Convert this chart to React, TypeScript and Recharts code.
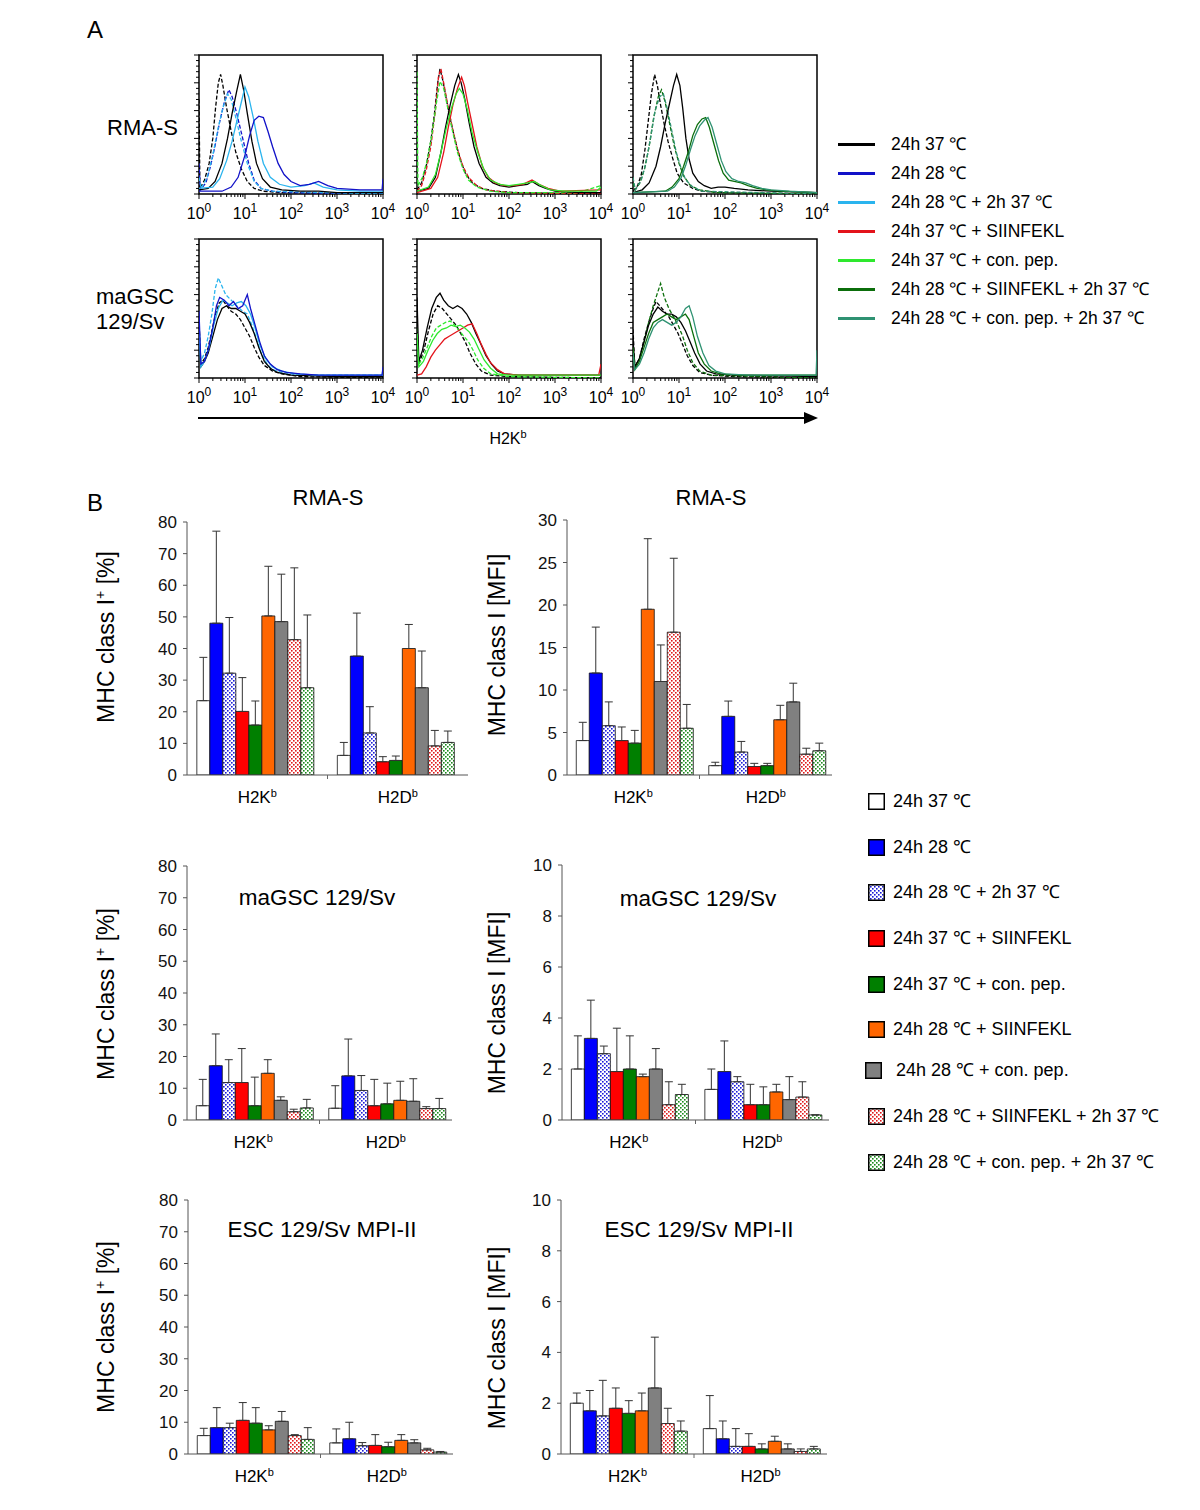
import React from 'react';
import { LineChart, Line, XAxis, YAxis, ReferenceArea, BarChart, Bar, ErrorBar } from 'recharts';

const FONT = '"Liberation Sans", Arial, Helvetica, sans-serif';

// ---------- Panel A: flow histograms, points are [log10 intensity, % of max events]
const tlBlackIso = [[0, 68], [0.02, 4], [0.12, 10], [0.22, 22], [0.3, 40], [0.36, 62], [0.42, 80], [0.47, 86], [0.52, 78], [0.6, 62], [0.7, 45], [0.8, 30], [0.92, 18], [1.05, 9], [1.2, 4], [1.4, 2], [1.8, 1], [4, 0]];
const tlBlueIso = [[0, 22], [0.03, 3], [0.15, 8], [0.25, 20], [0.35, 35], [0.45, 52], [0.55, 66], [0.65, 75], [0.72, 70], [0.82, 58], [0.95, 40], [1.08, 22], [1.2, 10], [1.35, 4], [1.6, 2], [2, 1], [4, 0]];
const tlCyanIso = [[0, 12], [0.05, 4], [0.18, 12], [0.3, 28], [0.42, 48], [0.52, 62], [0.62, 72], [0.7, 68], [0.8, 55], [0.92, 38], [1.05, 22], [1.2, 9], [1.35, 4], [1.6, 2], [4, 0]];
const tlBlack = [[0, 3], [0.2, 4], [0.35, 9], [0.5, 22], [0.62, 40], [0.72, 58], [0.82, 74], [0.9, 86], [0.97, 75], [1.05, 58], [1.15, 38], [1.25, 22], [1.38, 11], [1.55, 5], [1.8, 3], [2.2, 2], [2.6, 2], [3, 1], [4, 1]];
const tlCyan = [[0, 4], [0.3, 5], [0.45, 11], [0.6, 24], [0.72, 38], [0.82, 52], [0.92, 66], [1.0, 77], [1.08, 70], [1.18, 55], [1.28, 38], [1.4, 22], [1.55, 12], [1.75, 7], [2.0, 5], [2.3, 6], [2.5, 8], [2.7, 5], [3.0, 3], [3.5, 2], [4, 2]];
const tlBlue = [[0, 2], [0.5, 2], [0.7, 5], [0.85, 12], [1.0, 28], [1.1, 42], [1.2, 53], [1.3, 56], [1.4, 55], [1.5, 45], [1.6, 34], [1.72, 22], [1.85, 14], [2.0, 9], [2.2, 6], [2.4, 7], [2.6, 9], [2.8, 6], [3.0, 4], [3.5, 3], [3.98, 3], [4, 11]];

const tmBlackIso = [[0, 3], [0.1, 8], [0.2, 20], [0.3, 38], [0.38, 58], [0.45, 80], [0.5, 90], [0.56, 82], [0.65, 66], [0.75, 50], [0.85, 36], [0.95, 24], [1.05, 15], [1.2, 8], [1.4, 4], [1.7, 2], [2.2, 1], [4, 0]];
const tmRedIso = [[0, 2], [0.1, 6], [0.2, 17], [0.3, 34], [0.4, 60], [0.47, 85], [0.52, 90], [0.58, 80], [0.68, 62], [0.78, 46], [0.88, 32], [1.0, 20], [1.12, 12], [1.3, 6], [1.5, 3], [2, 1], [4, 0]];
const tmGreenIso = [[0, 88], [0.02, 6], [0.12, 12], [0.22, 24], [0.32, 42], [0.42, 65], [0.5, 81], [0.58, 76], [0.68, 60], [0.78, 44], [0.88, 30], [1.0, 18], [1.12, 10], [1.3, 5], [1.6, 2], [2, 1], [3.5, 1], [4, 6]];
const tmBlack = [[0, 2], [0.25, 4], [0.4, 12], [0.52, 30], [0.62, 48], [0.72, 64], [0.82, 78], [0.9, 86], [0.96, 80], [1.04, 68], [1.14, 50], [1.24, 34], [1.35, 22], [1.5, 12], [1.65, 8], [1.8, 6], [2.0, 5], [2.2, 6], [2.4, 7], [2.5, 9], [2.65, 6], [2.8, 4], [3.0, 2], [3.5, 1], [4, 1]];
const tmRed = [[0, 1], [0.3, 4], [0.45, 12], [0.58, 30], [0.68, 48], [0.78, 64], [0.88, 76], [0.97, 84], [1.03, 78], [1.1, 66], [1.2, 50], [1.3, 34], [1.42, 20], [1.55, 12], [1.7, 8], [1.9, 6], [2.1, 6], [2.3, 7], [2.5, 10], [2.65, 7], [2.85, 4], [3.1, 2], [4, 3]];
const tmGreen = [[0, 2], [0.25, 5], [0.4, 14], [0.52, 30], [0.64, 48], [0.75, 62], [0.85, 72], [0.92, 76], [1.0, 72], [1.1, 60], [1.2, 44], [1.32, 30], [1.45, 18], [1.6, 10], [1.8, 7], [2.0, 6], [2.2, 7], [2.4, 8], [2.55, 9], [2.7, 6], [2.9, 3], [3.2, 2], [3.9, 2], [4, 5]];

const trBlackIso = [[0, 2], [0.1, 6], [0.18, 14], [0.26, 32], [0.33, 52], [0.4, 72], [0.47, 86], [0.53, 78], [0.6, 64], [0.68, 50], [0.76, 38], [0.86, 26], [0.96, 15], [1.1, 8], [1.3, 4], [1.5, 2], [2, 1], [4, 0]];
const trDkGreenIso = [[0, 8], [0.05, 3], [0.15, 8], [0.25, 18], [0.35, 34], [0.45, 55], [0.55, 70], [0.62, 75], [0.7, 66], [0.8, 50], [0.9, 34], [1.0, 22], [1.1, 13], [1.25, 6], [1.45, 3], [1.8, 1], [4, 0]];
const trTealIso = [[0, 12], [0.05, 3], [0.18, 10], [0.28, 22], [0.38, 40], [0.48, 60], [0.58, 70], [0.66, 72], [0.74, 62], [0.84, 46], [0.94, 30], [1.05, 18], [1.15, 10], [1.3, 5], [1.5, 2], [4, 0]];
const trBlack = [[0, 1], [0.2, 3], [0.35, 8], [0.5, 20], [0.6, 34], [0.7, 51], [0.8, 66], [0.88, 78], [0.95, 86], [1.02, 78], [1.08, 62], [1.15, 40], [1.22, 25], [1.3, 15], [1.42, 9], [1.55, 6], [1.7, 4], [1.85, 5], [2.0, 5], [2.2, 4], [2.5, 3], [3.0, 2], [4, 1]];
const trDkGreen = [[0, 1], [0.7, 2], [0.85, 5], [1.0, 11], [1.1, 20], [1.2, 30], [1.3, 42], [1.4, 50], [1.5, 54], [1.58, 55], [1.66, 48], [1.76, 36], [1.86, 24], [1.96, 15], [2.08, 10], [2.2, 9], [2.35, 8], [2.5, 6], [2.7, 4], [2.9, 3], [3.2, 2], [4, 1]];
const trTeal = [[0, 1], [0.75, 2], [0.9, 5], [1.05, 12], [1.15, 21], [1.25, 32], [1.35, 42], [1.45, 49], [1.55, 53], [1.63, 55], [1.72, 48], [1.82, 36], [1.92, 24], [2.02, 16], [2.15, 11], [2.3, 9], [2.45, 8], [2.6, 6], [2.8, 4], [3.0, 3], [3.4, 2], [4, 1]];

const blBlackIso = [[0, 42], [0.04, 10], [0.12, 14], [0.2, 22], [0.28, 34], [0.36, 46], [0.44, 54], [0.52, 56], [0.6, 52], [0.7, 48], [0.8, 46], [0.9, 42], [1.0, 36], [1.1, 30], [1.2, 22], [1.3, 15], [1.42, 9], [1.6, 5], [1.8, 3], [2.2, 1], [4, 0]];
const blBlack = [[0, 30], [0.04, 8], [0.12, 12], [0.2, 18], [0.3, 30], [0.4, 42], [0.5, 50], [0.6, 52], [0.7, 50], [0.8, 50], [0.9, 48], [1.0, 46], [1.1, 40], [1.2, 32], [1.3, 22], [1.42, 12], [1.55, 7], [1.7, 4], [2, 2], [3, 1], [4, 1]];
const blBlue = [[0, 48], [0.04, 10], [0.12, 12], [0.2, 20], [0.3, 36], [0.38, 52], [0.45, 58], [0.55, 56], [0.65, 52], [0.75, 55], [0.85, 50], [0.95, 52], [1.05, 60], [1.12, 50], [1.22, 38], [1.32, 26], [1.42, 16], [1.55, 10], [1.7, 6], [1.9, 4], [2.2, 3], [2.6, 2], [3.5, 2], [3.98, 2], [4, 8]];
const blCyanIso = [[0, 40], [0.04, 12], [0.12, 18], [0.2, 30], [0.28, 46], [0.35, 64], [0.42, 72], [0.5, 66], [0.58, 60], [0.7, 56], [0.82, 52], [0.95, 48], [1.05, 46], [1.15, 38], [1.25, 28], [1.35, 18], [1.48, 10], [1.6, 6], [1.8, 4], [2.2, 2], [3, 2], [4, 2]];
const blCyan = [[0, 35], [0.04, 8], [0.12, 12], [0.22, 22], [0.32, 38], [0.42, 50], [0.52, 56], [0.62, 54], [0.72, 52], [0.82, 54], [0.92, 55], [1.02, 52], [1.12, 46], [1.22, 36], [1.32, 24], [1.45, 14], [1.6, 8], [1.8, 5], [2.1, 3], [2.6, 2], [3.5, 2], [3.98, 2], [4, 6]];

const bmBlackIso = [[0, 40], [0.04, 10], [0.15, 20], [0.25, 34], [0.35, 46], [0.45, 52], [0.55, 50], [0.65, 46], [0.75, 42], [0.85, 38], [0.95, 32], [1.05, 26], [1.15, 18], [1.28, 10], [1.4, 5], [1.6, 2], [2, 1], [4, 0]];
const bmBlack = [[0, 58], [0.04, 12], [0.12, 20], [0.22, 36], [0.32, 50], [0.42, 58], [0.5, 61], [0.58, 56], [0.68, 52], [0.78, 50], [0.88, 52], [0.98, 50], [1.08, 46], [1.18, 40], [1.28, 32], [1.38, 25], [1.5, 16], [1.62, 10], [1.75, 5], [1.9, 3], [2.2, 2], [3, 2], [4, 2]];
const bmRed = [[0, 2], [0.1, 3], [0.2, 8], [0.3, 15], [0.4, 20], [0.5, 24], [0.6, 28], [0.7, 30], [0.8, 32], [0.9, 34], [1.0, 36], [1.1, 38], [1.2, 39], [1.3, 32], [1.4, 24], [1.5, 17], [1.6, 11], [1.75, 6], [1.9, 3], [2.2, 2], [3, 2], [3.95, 2], [4, 10]];
const bmGreenIso = [[0, 36], [0.04, 10], [0.12, 14], [0.22, 22], [0.32, 30], [0.42, 36], [0.52, 38], [0.62, 40], [0.72, 41], [0.82, 38], [0.92, 34], [1.02, 30], [1.12, 26], [1.22, 20], [1.32, 13], [1.45, 7], [1.6, 3], [2, 1], [4, 0]];
const bmGreen = [[0, 32], [0.04, 8], [0.14, 12], [0.24, 20], [0.34, 27], [0.44, 32], [0.54, 35], [0.64, 36], [0.74, 38], [0.84, 37], [0.94, 38], [1.04, 36], [1.14, 33], [1.24, 28], [1.34, 21], [1.46, 13], [1.6, 7], [1.75, 3], [2, 2], [3, 2], [4, 2]];

const brBlackIso = [[0, 35], [0.04, 8], [0.14, 14], [0.24, 28], [0.34, 40], [0.44, 50], [0.5, 55], [0.58, 52], [0.68, 48], [0.78, 44], [0.88, 38], [0.98, 32], [1.08, 24], [1.18, 16], [1.3, 9], [1.45, 4], [1.7, 2], [2.2, 1], [4, 0]];
const brBlack = [[0, 28], [0.04, 8], [0.14, 14], [0.24, 26], [0.34, 38], [0.44, 46], [0.54, 51], [0.64, 48], [0.74, 46], [0.84, 46], [0.94, 44], [1.04, 40], [1.14, 34], [1.24, 26], [1.34, 18], [1.46, 10], [1.6, 5], [1.8, 3], [2.2, 2], [4, 1]];
const brDkGreenIso = [[0, 20], [0.04, 8], [0.14, 14], [0.24, 26], [0.34, 40], [0.44, 52], [0.52, 60], [0.6, 68], [0.68, 58], [0.78, 50], [0.88, 44], [0.98, 38], [1.08, 30], [1.18, 20], [1.3, 11], [1.45, 5], [1.7, 2], [4, 0]];
const brDkGreen = [[0, 22], [0.04, 6], [0.14, 12], [0.24, 22], [0.34, 32], [0.44, 40], [0.54, 42], [0.64, 44], [0.74, 46], [0.84, 44], [0.94, 42], [1.04, 44], [1.14, 46], [1.22, 42], [1.32, 30], [1.42, 18], [1.55, 10], [1.7, 5], [1.9, 3], [2.3, 2], [3.5, 2], [4, 2]];
const brTeal = [[0, 18], [0.04, 6], [0.14, 10], [0.24, 18], [0.34, 28], [0.44, 36], [0.54, 40], [0.64, 42], [0.74, 40], [0.84, 38], [0.94, 40], [1.04, 44], [1.14, 50], [1.22, 52], [1.3, 44], [1.4, 30], [1.52, 18], [1.65, 9], [1.8, 5], [2.0, 3], [2.5, 2], [3.5, 2], [3.98, 2], [4, 20]];

const decades = [0, 1, 2, 3, 4];
const lineLegend = ['24h 37 ℃', '24h 28 ℃', '24h 28 ℃ + 2h 37 ℃', '24h 37 ℃ + SIINFEKL', '24h 37 ℃ + con. pep.', '24h 28 ℃ + SIINFEKL + 2h 37 ℃', '24h 28 ℃ + con. pep. + 2h 37 ℃'];
const lc = ['#000000', '#1212c8', '#2ab4ee', '#e3131b', '#2ee82e', '#0b6e0b', '#2f9272'];

// ---------- Panel B: bar values (mean) and top of error bar (mean + SD)
const alleles = ['H2K', 'H2D'];
const treatments = ['24h 37 ℃', '24h 28 ℃', '24h 28 ℃ + 2h 37 ℃', '24h 37 ℃ + SIINFEKL', '24h 37 ℃ + con. pep.', '24h 28 ℃ + SIINFEKL', '24h 28 ℃ + con. pep.', '24h 28 ℃ + SIINFEKL + 2h 37 ℃', '24h 28 ℃ + con. pep. + 2h 37 ℃'];

const rmaPctK = [23.5, 48, 32.2, 20.1, 15.8, 50.3, 48.5, 42.8, 27.6];
const rmaPctKErr = [37.2, 77.1, 49.8, 30.8, 23.4, 66, 63.5, 65.5, 50.6];
const rmaPctD = [6.2, 37.6, 13.3, 4.2, 4.6, 40, 27.6, 9.2, 10.3];
const rmaPctDErr = [10.3, 51.2, 21.6, 5.8, 6, 47.6, 39.2, 14.1, 13.9];

const rmaMfiK = [4.05, 12, 5.8, 4.05, 3.75, 19.5, 11, 16.8, 5.5];
const rmaMfiKErr = [6.2, 17.4, 8.6, 5.65, 5.25, 27.8, 15.3, 25.5, 8.3];
const rmaMfiD = [1.1, 6.9, 2.7, 1.0, 1.1, 6.5, 8.6, 2.45, 2.85];
const rmaMfiDErr = [1.5, 8.7, 3.95, 1.37, 1.37, 8.2, 10.8, 3.15, 3.75];

const gscPctK = [4.5, 17.1, 11.8, 11.8, 4.5, 14.7, 6.2, 2.6, 3.8];
const gscPctKErr = [12.8, 27.1, 19, 22.5, 13.5, 19, 7.3, 3.4, 6.5];
const gscPctD = [3.7, 13.9, 9.3, 4.5, 5.1, 6.2, 5.9, 3.6, 3.6];
const gscPctDErr = [10.8, 25.5, 14, 12.8, 11.6, 12.2, 13, 4.2, 6.8];

const gscMfiK = [2.0, 3.2, 2.6, 1.9, 2.0, 1.7, 2.0, 0.6, 1.0];
const gscMfiKErr = [3.3, 4.7, 2.9, 3.6, 3.3, 1.8, 2.8, 1.5, 1.4];
const gscMfiD = [1.2, 1.9, 1.5, 0.6, 0.6, 1.1, 0.8, 0.9, 0.2];
const gscMfiDErr = [2.0, 3.1, 1.7, 1.4, 1.3, 1.4, 1.7, 1.5, 0.2];

const escPctK = [5.8, 8.3, 8.3, 10.6, 9.7, 7.6, 10.3, 5.8, 4.6];
const escPctKErr = [8.1, 14.6, 9.7, 16.2, 14.6, 8.9, 13.4, 6.1, 8.3];
const escPctD = [3.5, 4.8, 2.6, 2.7, 2.3, 4.3, 3.5, 1.3, 0.6];
const escPctDErr = [7.9, 10, 3.6, 6.1, 3.7, 6.1, 4.5, 1.8, 0.8];

const escMfiK = [2.0, 1.7, 1.5, 1.8, 1.6, 1.7, 2.6, 1.2, 0.9];
const escMfiKErr = [2.4, 2.5, 2.9, 2.6, 2.1, 2.4, 4.6, 1.8, 1.3];
const escMfiD = [1.0, 0.6, 0.3, 0.3, 0.2, 0.5, 0.2, 0.1, 0.2];
const escMfiDErr = [2.3, 1.3, 1.0, 0.8, 0.4, 0.7, 0.4, 0.2, 0.3];

const pctTicks = [0, 10, 20, 30, 40, 50, 60, 70, 80];
const rmaMfiTicks = [0, 5, 10, 15, 20, 25, 30];
const mfiTicks = [0, 2, 4, 6, 8, 10];

const barFills = ['#ffffff', '#0000ff', 'url(#dotBlue)', '#ff0000', '#007f00', '#ff6600', '#808080', 'url(#dotRed)', 'url(#dotGreen)'];
const dotPatterns = [
    { id: 'dotBlue', color: '#1a1ad8' },
    { id: 'dotRed', color: '#e01818' },
    { id: 'dotGreen', color: '#1a8a1a' },
];

// ---------- helpers
const Txt = ({ x, y, size, children, rot, anchor }: any) => (
    <div
        style={{
            position: 'absolute',
            left: x,
            top: y,
            fontSize: size,
            whiteSpace: 'nowrap',
            lineHeight: 1,
            color: '#000',
            transform: `translate(${anchor === 'start' ? '0' : anchor === 'end' ? '-100%' : '-50%'}, -50%)${rot ? ' rotate(-90deg)' : ''}`,
            transformOrigin: rot ? '50% 50%' : undefined,
        }}
    >
        {children}
    </div>
);

const LogTick = (props: any) => {
    const { x, y, payload } = props;
    const v = payload.value;
    const major = Math.abs(v - Math.round(v)) < 1e-6;
    return (
        <g>
            <line x1={x} y1={y} x2={x} y2={y + (major ? 5 : 3)} stroke="#000" strokeWidth={1} />
            {major && (
                <text x={x} y={y + 25} textAnchor="middle" fontSize={16} fill="#000" fontFamily={FONT}>
                    10<tspan dy={-7} fontSize={12}>{Math.round(v)}</tspan>
                </text>
            )}
        </g>
    );
};

const CountTick = (props: any) => {
    const { x, y, payload } = props;
    const major = payload.value % 20 === 0;
    return <line x1={x} y1={y} x2={x - (major ? 5 : 3)} y2={y} stroke="#000" strokeWidth={1} />;
};

const minorTicks = decades.slice(0, 4).flatMap((d) => [2, 3, 4, 5, 6, 7, 8, 9].map((k) => d + Math.log10(k)));
const logTicks = [...decades, ...minorTicks].sort((a, b) => a - b);
const countTicks = Array.from({ length: 26 }, (_, i) => i * 4);

type Curve = { pts: number[][]; color: string; dashed?: boolean };

const Histo = ({ left, top, curves }: { left: number; top: number; curves: Curve[] }) => {
    const W = 184;
    const H = 139;
    return (
        <div style={{ position: 'absolute', left: left - 20, top: top - 5 }}>
            <LineChart width={W + 40} height={H + 40} margin={{ top: 5, right: 20, left: 0, bottom: 0 }}>
                <XAxis type="number" dataKey="x" domain={[0, 4]} ticks={logTicks} interval={0} tick={<LogTick />} tickLine={false} axisLine={false} tickSize={0} tickMargin={0} height={35} allowDataOverflow />
                <YAxis type="number" domain={[0, 100]} ticks={countTicks} interval={0} tick={<CountTick />} tickLine={false} axisLine={false} tickSize={0} tickMargin={0} width={20} allowDataOverflow />
                {curves.map((c, i) => (
                    <Line
                        key={i}
                        data={c.pts.map(([x, y]) => ({ x, y }))}
                        dataKey="y"
                        type="linear"
                        stroke={c.color}
                        strokeWidth={1.3}
                        strokeDasharray={c.dashed ? '4 2' : undefined}
                        dot={false}
                        activeDot={false}
                        isAnimationActive={false}
                    />
                ))}
                <ReferenceArea x1={0} x2={4} y1={0} y2={100} fill="none" stroke="#000" strokeWidth={1.5} />
            </LineChart>
        </div>
    );
};

const CatTick = (props: any) => {
    const { x, y, payload, index, half } = props;
    return (
        <g>
            {index === 0 && <line x1={x + half} y1={y} x2={x + half} y2={y + 4} stroke="#666" />}
            <text x={x} y={y + 28} textAnchor="middle" fontSize={17} fill="#000" fontFamily={FONT}>
                {payload.value}
                <tspan dy={-6} fontSize={11}>b</tspan>
            </text>
        </g>
    );
};

const buildRows = (k: number[], kErr: number[], d: number[], dErr: number[]) =>
    alleles.map((cat, ci) => {
        const vals = ci === 0 ? k : d;
        const errs = ci === 0 ? kErr : dErr;
        const row: any = { cat };
        vals.forEach((v, i) => {
            row['v' + i] = v;
            row['e' + i] = [0, Math.max(0, errs[i] - v)];
        });
        return row;
    });

const BarPanel = ({ left, top, w, h, yMax, ticks, rows }: any) => (
    <div style={{ position: 'absolute', left: left - 70, top: top - 10 }}>
        <BarChart width={w + 80} height={h + 50} data={rows} margin={{ top: 10, right: 10, left: 0, bottom: 0 }} barCategoryGap="7%" barGap={0}>
            <XAxis dataKey="cat" axisLine={{ stroke: '#555' }} tickLine={false} tickSize={0} tickMargin={0} height={40} interval={0} tick={<CatTick half={w / 4} />} />
            <YAxis
                type="number"
                domain={[0, yMax]}
                ticks={ticks}
                interval={0}
                width={70}
                axisLine={{ stroke: '#555' }}
                tickLine={{ stroke: '#555' }}
                tickSize={4}
                tickMargin={6}
                tick={{ fontSize: 17, fill: '#111', fontFamily: FONT }}
                allowDataOverflow
            />
            {barFills.map((f, i) => (
                <Bar key={i} dataKey={'v' + i} name={treatments[i]} fill={f} stroke="#111" strokeWidth={0.8} isAnimationActive={false}>
                    <ErrorBar dataKey={'e' + i} width={4} stroke="#333" strokeWidth={1} direction="y" />
                </Bar>
            ))}
        </BarChart>
    </div>
);

const LegendSwatch = ({ x, y, fill }: any) => (
    <svg style={{ position: 'absolute', left: x, top: y - 8 }} width={17} height={17}>
        <rect x={0.75} y={0.75} width={15.5} height={15.5} fill={fill} stroke="#000" strokeWidth={1.5} />
    </svg>
);

export default function App() {
    const histos: { left: number; top: number; curves: Curve[] }[] = [
        { left: 199, top: 55, curves: [
            { pts: tlBlackIso, color: lc[0], dashed: true }, { pts: tlBlueIso, color: lc[1], dashed: true }, { pts: tlCyanIso, color: lc[2], dashed: true },
            { pts: tlBlack, color: lc[0] }, { pts: tlCyan, color: lc[2] }, { pts: tlBlue, color: lc[1] },
        ] },
        { left: 417, top: 55, curves: [
            { pts: tmBlackIso, color: lc[0], dashed: true }, { pts: tmRedIso, color: lc[3], dashed: true }, { pts: tmGreenIso, color: lc[4], dashed: true },
            { pts: tmBlack, color: lc[0] }, { pts: tmRed, color: lc[3] }, { pts: tmGreen, color: lc[4] },
        ] },
        { left: 633, top: 55, curves: [
            { pts: trBlackIso, color: lc[0], dashed: true }, { pts: trDkGreenIso, color: lc[5], dashed: true }, { pts: trTealIso, color: lc[6], dashed: true },
            { pts: trBlack, color: lc[0] }, { pts: trDkGreen, color: lc[5] }, { pts: trTeal, color: lc[6] },
        ] },
        { left: 199, top: 239, curves: [
            { pts: blBlackIso, color: lc[0], dashed: true }, { pts: blCyanIso, color: lc[2], dashed: true },
            { pts: blBlack, color: lc[0] }, { pts: blCyan, color: lc[2] }, { pts: blBlue, color: lc[1] },
        ] },
        { left: 417, top: 239, curves: [
            { pts: bmBlackIso, color: lc[0], dashed: true }, { pts: bmGreenIso, color: lc[4], dashed: true },
            { pts: bmBlack, color: lc[0] }, { pts: bmRed, color: lc[3] }, { pts: bmGreen, color: lc[4] },
        ] },
        { left: 633, top: 239, curves: [
            { pts: brBlackIso, color: lc[0], dashed: true }, { pts: brDkGreenIso, color: lc[5], dashed: true },
            { pts: brBlack, color: lc[0] }, { pts: brDkGreen, color: lc[5] }, { pts: brTeal, color: lc[6] },
        ] },
    ];

    const bars = [
        { left: 187, top: 522, w: 281, h: 253, yMax: 80, ticks: pctTicks, rows: buildRows(rmaPctK, rmaPctKErr, rmaPctD, rmaPctDErr) },
        { left: 567, top: 520, w: 265, h: 255, yMax: 30, ticks: rmaMfiTicks, rows: buildRows(rmaMfiK, rmaMfiKErr, rmaMfiD, rmaMfiDErr) },
        { left: 187, top: 866, w: 265, h: 254, yMax: 80, ticks: pctTicks, rows: buildRows(gscPctK, gscPctKErr, gscPctD, gscPctDErr) },
        { left: 562, top: 865, w: 267, h: 255, yMax: 10, ticks: mfiTicks, rows: buildRows(gscMfiK, gscMfiKErr, gscMfiD, gscMfiDErr) },
        { left: 188, top: 1200, w: 265, h: 254, yMax: 80, ticks: pctTicks, rows: buildRows(escPctK, escPctKErr, escPctD, escPctDErr) },
        { left: 561, top: 1200, w: 266, h: 254, yMax: 10, ticks: mfiTicks, rows: buildRows(escMfiK, escMfiKErr, escMfiD, escMfiDErr) },
    ];

    const pctLabel = <span>MHC class I<sup style={{ fontSize: 14 }}>+</sup> [%]</span>;
    const mfiLabel = <span>MHC class I [MFI]</span>;
    const legendRowsB = [801, 847, 892, 938, 984, 1029, 1070, 1116, 1162];

    return (
        <div style={{ position: 'absolute', left: 0, top: 0, width: 1200, height: 1510, background: '#fff', fontFamily: FONT, overflow: 'hidden' }}>
            <svg width={0} height={0} style={{ position: 'absolute' }}>
                <defs>
                    {dotPatterns.map((p) => (
                        <pattern key={p.id} id={p.id} width={4} height={4} patternUnits="userSpaceOnUse">
                            <rect width={4} height={4} fill="#fff" />
                            <rect x={0} y={0} width={1.6} height={1.6} fill={p.color} />
                            <rect x={2} y={2} width={1.6} height={1.6} fill={p.color} />
                        </pattern>
                    ))}
                </defs>
            </svg>

            {/* Panel A */}
            <Txt x={95} y={30} size={24}>A</Txt>
            <Txt x={178} y={128} size={22} anchor="end">RMA-S</Txt>
            <Txt x={96} y={297} size={22} anchor="start">maGSC</Txt>
            <Txt x={96} y={322} size={22} anchor="start">129/Sv</Txt>
            {histos.map((hc, i) => (
                <Histo key={i} left={hc.left} top={hc.top} curves={hc.curves} />
            ))}
            <svg style={{ position: 'absolute', left: 190, top: 408 }} width={640} height={20}>
                <line x1={8} y1={10} x2={618} y2={10} stroke="#000" strokeWidth={2} />
                <polygon points="614,4 628,10 614,16" fill="#000" />
            </svg>
            <Txt x={508} y={438} size={16}>H2K<sup style={{ fontSize: 11 }}>b</sup></Txt>

            {lineLegend.map((t, i) => (
                <React.Fragment key={t}>
                    <div style={{ position: 'absolute', left: 838, top: 143 + i * 29, width: 37, height: 3, background: lc[i] }} />
                    <Txt x={891} y={145 + i * 29} size={17.5} anchor="start">{t}</Txt>
                </React.Fragment>
            ))}

            {/* Panel B */}
            <Txt x={95} y={503} size={24}>B</Txt>
            {bars.map((b, i) => (
                <BarPanel key={i} {...b} />
            ))}
            <Txt x={328} y={498} size={22}>RMA-S</Txt>
            <Txt x={711} y={498} size={22}>RMA-S</Txt>
            <Txt x={317} y={898} size={22.5}>maGSC 129/Sv</Txt>
            <Txt x={698} y={899} size={22.5}>maGSC 129/Sv</Txt>
            <Txt x={322} y={1230} size={22.5}>ESC 129/Sv MPI-II</Txt>
            <Txt x={699} y={1230} size={22.5}>ESC 129/Sv MPI-II</Txt>

            <Txt x={105} y={637} size={23} rot>{pctLabel}</Txt>
            <Txt x={105} y={994} size={23} rot>{pctLabel}</Txt>
            <Txt x={105} y={1327} size={23} rot>{pctLabel}</Txt>
            <Txt x={497} y={645} size={23} rot>{mfiLabel}</Txt>
            <Txt x={497} y={1003} size={23} rot>{mfiLabel}</Txt>
            <Txt x={497} y={1338} size={23} rot>{mfiLabel}</Txt>

            {treatments.map((t, i) => (
                <React.Fragment key={t}>
                    <LegendSwatch x={i === 6 ? 865 : 868} y={legendRowsB[i]} fill={barFills[i]} />
                    <Txt x={i === 6 ? 896 : 893} y={legendRowsB[i]} size={18} anchor="start">{t}</Txt>
                </React.Fragment>
            ))}
        </div>
    );
}
